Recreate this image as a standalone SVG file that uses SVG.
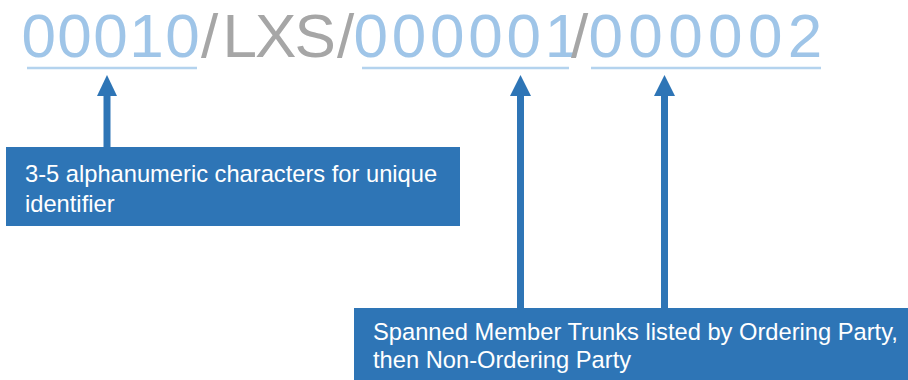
<svg xmlns="http://www.w3.org/2000/svg" width="908" height="380" viewBox="0 0 908 380">
  <style>
    .code { font-family: "Liberation Sans", Arial, sans-serif; font-size: 62px; }
    .num { fill: #9fc5e8; }
    .sep { fill: #a6a6a6; }
    .uline { stroke: #b4d3ee; stroke-width: 2.5; fill: none; }
    .box { fill: #2e75b6; }
    .label { font-family: "Liberation Sans", Arial, sans-serif; font-size: 23.7px; fill: #ffffff; }
    .shaft { stroke: #2e75b6; stroke-width: 7; fill: none; }
    .head { fill: #2e75b6; }
  </style>
  <rect width="908" height="380" fill="#ffffff"/>
  <g id="code">
    <text class="code" y="57"><tspan class="num" x="21.4" letter-spacing="1.5">00010</tspan><tspan class="sep" x="201">/</tspan><tspan class="sep" x="222.5" letter-spacing="-1.9">LXS</tspan><tspan class="sep" x="337">/</tspan><tspan class="num" x="353.4" letter-spacing="3.8">00000</tspan><tspan class="num" letter-spacing="-11">1</tspan><tspan class="sep" x="571">/</tspan><tspan class="num" x="588.4" letter-spacing="5.4">000002</tspan></text>
    <line class="uline" x1="27" y1="68" x2="197" y2="68"/>
    <line class="uline" x1="362" y1="68" x2="569" y2="68"/>
    <line class="uline" x1="591" y1="68" x2="821" y2="68"/>
  </g>
  <g id="connectors">
    <line class="shaft" x1="107" y1="95" x2="107" y2="148"/>
    <polygon class="head" points="107,75 97,96 117,96"/>
    <line class="shaft" x1="520.5" y1="95" x2="520.5" y2="309"/>
    <polygon class="head" points="520.5,75 510,96 531,96"/>
    <line class="shaft" x1="664.5" y1="95" x2="664.5" y2="309"/>
    <polygon class="head" points="664.5,75 654,96 675,96"/>
  </g>
  <g id="box1">
    <rect class="box" x="6" y="147" width="454" height="79"/>
    <text class="label" x="25" y="182">3-5 alphanumeric characters for unique</text>
    <text class="label" x="25" y="212">identifier</text>
  </g>
  <g id="box2">
    <rect class="box" x="354" y="308" width="554" height="72"/>
    <text class="label" x="373" y="340">Spanned Member Trunks listed by Ordering Party,</text>
    <text class="label" x="373" y="368">then Non-Ordering Party</text>
  </g>
</svg>
